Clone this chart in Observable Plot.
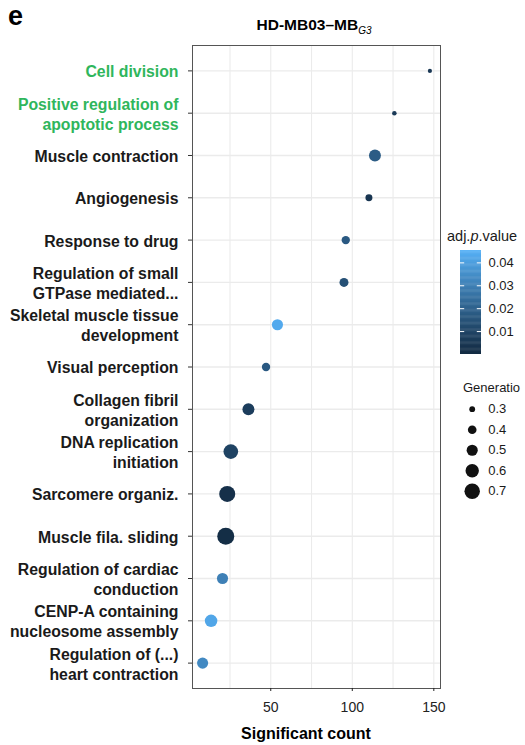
<!DOCTYPE html>
<html>
<head>
<meta charset="utf-8">
<script src="https://cdn.jsdelivr.net/npm/d3@7"></script>
<script src="https://cdn.jsdelivr.net/npm/@observablehq/plot@0.6"></script>
<style>
  body { margin: 0; background: #fff; }
  #wrap { position: relative; width: 525px; height: 745px; overflow: hidden; background: #fff;
          font-family: "Liberation Sans", Arial, Helvetica, sans-serif; }
  #wrap > * { position: absolute; }
</style>
</head>
<body>
<div id="wrap"></div>
<script>
// ---------- data ----------
const terms = [
  "Cell division",
  "Positive regulation of\napoptotic process",
  "Muscle contraction",
  "Angiogenesis",
  "Response to drug",
  "Regulation of small\nGTPase mediated...",
  "Skeletal muscle tissue\ndevelopment",
  "Visual perception",
  "Collagen fibril\norganization",
  "DNA replication\ninitiation",
  "Sarcomere organiz.",
  "Muscle fila. sliding",
  "Regulation of cardiac\nconduction",
  "CENP-A containing\nnucleosome assembly",
  "Regulation of (...)\nheart contraction"
];
const significantCount = [147.6, 125.8, 113.9, 110.2, 96.0, 94.9, 54.1, 47.1, 36.3, 25.5, 23.3, 22.4, 20.4, 13.4, 8.2];
const generatio = [0.25, 0.26, 0.535, 0.34, 0.39, 0.415, 0.50, 0.39, 0.535, 0.66, 0.73, 0.78, 0.50, 0.56, 0.50];
const adjPValue = [0.005, 0.006, 0.018, 0.004, 0.017, 0.014, 0.043, 0.017, 0.007, 0.009, 0.002, 0.001, 0.030, 0.042, 0.033];
const highlightedTerms = ["Cell division", "Positive regulation of\napoptotic process"];
const xTicks = [50, 100, 150];
const xGrid = [25, 50, 75, 100, 125, 150];
const colorTicks = [0.01, 0.02, 0.03, 0.04];
const sizeBreaks = [0.3, 0.4, 0.5, 0.6, 0.7];

const rows = terms.map((t, i) => ({term: t, count: significantCount[i], gen: generatio[i], p: adjPValue[i]}));

// ---------- shared scales ----------
const FONT = '"Liberation Sans", Arial, Helvetica, sans-serif';
const colorScale = {type: "linear", domain: [0, 0.0454], range: ["#132B43", "#56B1F7"], interpolate: "lab"};
const rScale = {type: "sqrt", domain: [0.25, 0.8], range: [2.1, 8.7]};
const GREEN = "#2fb65c";

const wrap = document.getElementById("wrap");

// ---------- main chart ----------
const main = Plot.plot({
  width: 450, height: 705,
  marginLeft: 192, marginRight: 10, marginTop: 5, marginBottom: 57,
  style: {fontFamily: FONT, background: "transparent", overflow: "visible"},
  x: {domain: [2, 154.1]},
  y: {type: "point", domain: terms, padding: 0.6, round: false},
  color: colorScale,
  r: rScale,
  marks: [
    Plot.gridX(xGrid, {stroke: "#ebebeb", strokeOpacity: 1, strokeWidth: 1.1}),
    Plot.gridY(terms, {stroke: "#ebebeb", strokeOpacity: 1, strokeWidth: 1.4}),
    Plot.frame({stroke: "#555", strokeWidth: 1}),
    Plot.axisX(xTicks, {tickSize: 3, tickPadding: 11, fontSize: 14, color: "#222", label: null}),
    Plot.axisY({tickSize: 4, tickFormat: () => "", color: "#333", label: null}),
    Plot.text(terms, {
      y: d => d, frameAnchor: "left", dx: -14, textAnchor: "end",
      fill: d => highlightedTerms.includes(d) ? GREEN : "#1a1a1a",
      fontWeight: "bold", fontSize: 15.8, lineHeight: 1.27
    }),
    Plot.dot(rows, {x: "count", y: "term", r: "gen", fill: "p"})
  ]
});
main.style.left = "0px";
main.style.top = "40px";
wrap.appendChild(main);

// ---------- colour bar legend ----------
const cbMax = colorScale.domain[1];
const cbSlices = d3.range(0, 120).map(i => i * cbMax / 120);
const cbar = Plot.plot({
  width: 85, height: 124,
  marginLeft: 20, marginRight: 44, marginTop: 10, marginBottom: 10,
  style: {fontFamily: FONT, background: "transparent", overflow: "visible"},
  x: {domain: [0, 1], axis: null},
  y: {domain: [0, cbMax], axis: null},
  color: colorScale,
  marks: [
    Plot.rect(cbSlices, {x1: 0, x2: 1, y1: d => d, y2: d => Math.min(cbMax, d + cbMax / 80), fill: d => d}),
    Plot.ruleY(colorTicks, {x1: 0, x2: 0.2, stroke: "white", strokeWidth: 1}),
    Plot.ruleY(colorTicks, {x1: 0.8, x2: 1, stroke: "white", strokeWidth: 1}),
    Plot.text(colorTicks, {y: d => d, frameAnchor: "right", dx: 7, textAnchor: "start",
      text: d => d.toFixed(2), fontSize: 13, fill: "#1a1a1a"})
  ]
});
cbar.style.left = "440px";
cbar.style.top = "240px";
wrap.appendChild(cbar);

// ---------- size legend ----------
const sizeLeg = Plot.plot({
  width: 85, height: 103,
  marginLeft: 20, marginRight: 40, marginTop: 10.7, marginBottom: 10.3,
  style: {fontFamily: FONT, background: "transparent", overflow: "visible"},
  x: {domain: [0, 1], axis: null},
  y: {type: "point", domain: sizeBreaks, padding: 0, round: false, axis: null},
  r: rScale,
  marks: [
    Plot.dot(sizeBreaks, {y: d => d, frameAnchor: "left", dx: 11.7, r: d => d, fill: "#111"}),
    Plot.text(sizeBreaks, {y: d => d, frameAnchor: "left", dx: 27.7, textAnchor: "start",
      text: d => d.toFixed(1), fontSize: 13, fill: "#1a1a1a"})
  ]
});
sizeLeg.style.left = "440px";
sizeLeg.style.top = "398px";
wrap.appendChild(sizeLeg);

// ---------- overlay texts ----------
const ns = "http://www.w3.org/2000/svg";
const over = document.createElementNS(ns, "svg");
over.setAttribute("width", 525); over.setAttribute("height", 745);
over.style.left = "0px"; over.style.top = "0px"; over.style.pointerEvents = "none";
over.style.fontFamily = FONT;
over.innerHTML = `
  <text x="8" y="25" font-size="27" font-weight="bold" fill="#000">e</text>
  <text x="314" y="30" text-anchor="middle" fill="#000"><tspan font-size="15.5" font-weight="bold">HD-MB03–MB</tspan><tspan font-size="10" font-style="italic" dy="4">G3</tspan></text>
  <text x="306" y="739" text-anchor="middle" font-size="16" font-weight="bold" fill="#000">Significant count</text>
  <text x="447" y="241" font-size="14.5" fill="#1a1a1a">adj.<tspan font-style="italic">p</tspan>.value</text>
  <text x="463" y="392" font-size="13" fill="#1a1a1a">Generatio</text>
`;
wrap.appendChild(over);
</script>
</body>
</html>
